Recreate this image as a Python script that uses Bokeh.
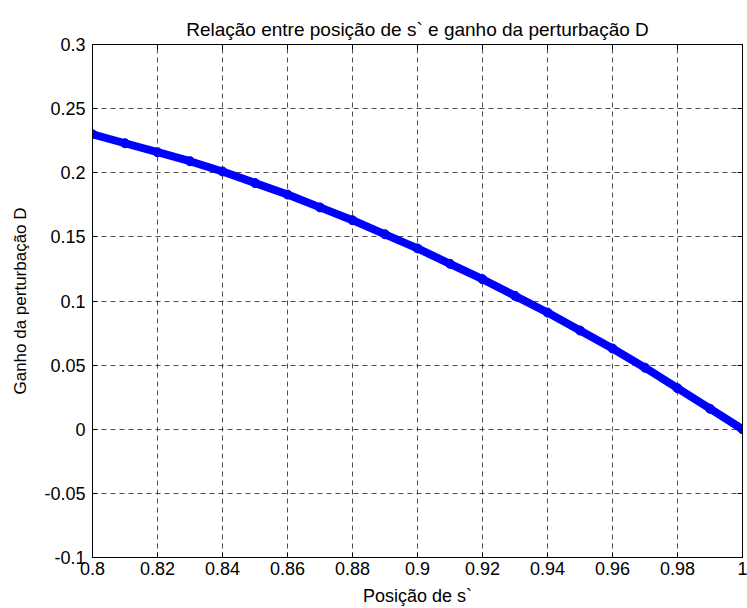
from bokeh.plotting import figure
from bokeh.models import Range1d, FixedTicker, LinearAxis
from bokeh.embed import file_html
from bokeh.resources import INLINE

x_vals = [0.80, 0.81, 0.82, 0.83, 0.84, 0.85, 0.86, 0.87, 0.88, 0.89, 0.90,
          0.91, 0.92, 0.93, 0.94, 0.95, 0.96, 0.97, 0.98, 0.99, 1.00]
y_vals = [0.230, 0.223, 0.216, 0.209, 0.201, 0.192, 0.183, 0.173, 0.163, 0.152, 0.141,
          0.129, 0.117, 0.104, 0.091, 0.077, 0.063, 0.048, 0.032, 0.016, 0.000]

x_ticks = [0.8, 0.82, 0.84, 0.86, 0.88, 0.9, 0.92, 0.94, 0.96, 0.98, 1.0]
y_ticks = [-0.1, -0.05, 0, 0.05, 0.1, 0.15, 0.2, 0.25, 0.3]

title = "Relação entre posição de s` e ganho da perturbação D"
x_label = "Posição de s`"
y_label = "Ganho da perturbação D"

FONT = "Liberation Sans"

p = figure(width=747, height=608, output_backend="svg", toolbar_location=None,
           x_range=Range1d(0.8, 1.0), y_range=Range1d(-0.1, 0.3),
           min_border_left=92, min_border_right=5, min_border_top=44, min_border_bottom=50,
           title=title)
p.title.text_font = FONT
p.title.text_font_size = "19px"
p.title.text_font_style = "normal"
p.title.text_color = "black"
p.title.align = "center"
p.title.offset = 0
p.title.standoff = 10

p.outline_line_color = "black"
p.outline_line_width = 1
p.background_fill_color = "white"
p.border_fill_color = "white"

for ax in (p.xaxis[0], p.yaxis[0]):
    ax.major_tick_in = 5
    ax.major_tick_out = 0
    ax.minor_tick_in = 0
    ax.minor_tick_out = 0
    ax.axis_line_color = "black"
    ax.major_tick_line_color = "black"
    ax.major_label_text_font = FONT
    ax.major_label_text_font_size = "18px"
    ax.major_label_text_color = "black"
    ax.axis_label_text_font = FONT
    ax.axis_label_text_font_size = "18px"
    ax.axis_label_text_font_style = "normal"
    ax.axis_label_text_color = "black"

p.yaxis[0].axis_label_text_font_size = "17px"
p.xaxis[0].ticker = FixedTicker(ticks=x_ticks)
p.yaxis[0].ticker = FixedTicker(ticks=y_ticks)
p.xaxis[0].major_label_overrides = {t: ("1" if t == 1.0 else f"{t:g}") for t in x_ticks}
p.yaxis[0].major_label_overrides = {t: f"{t:g}" for t in y_ticks}
p.xaxis[0].axis_label = x_label
p.yaxis[0].axis_label = y_label
p.xaxis[0].major_label_standoff = 4
p.yaxis[0].major_label_standoff = 7
p.xaxis[0].axis_label_standoff = 8
p.yaxis[0].axis_label_standoff = 11

top = LinearAxis(ticker=FixedTicker(ticks=x_ticks), major_label_text_font_size="0px",
                 major_tick_in=5, major_tick_out=0, minor_tick_in=0, minor_tick_out=0)
right = LinearAxis(ticker=FixedTicker(ticks=y_ticks), major_label_text_font_size="0px",
                   major_tick_in=5, major_tick_out=0, minor_tick_in=0, minor_tick_out=0)
top.major_label_text_alpha = 0
right.major_label_text_alpha = 0
p.add_layout(top, "above")
p.add_layout(right, "right")

for g in (p.xgrid[0], p.ygrid[0]):
    g.grid_line_color = "#222222"
    g.grid_line_dash = "5 4"
    g.grid_line_width = 1
    g.grid_line_alpha = 0.8
p.xgrid[0].ticker = FixedTicker(ticks=x_ticks)
p.ygrid[0].ticker = FixedTicker(ticks=y_ticks)

p.line(x_vals, y_vals, line_color="#0000ff", line_width=8)
p.scatter(x_vals, y_vals, size=9, fill_color="#0000ff", line_color="#0000ff")

open("out.html", "w").write(file_html(p, INLINE))
